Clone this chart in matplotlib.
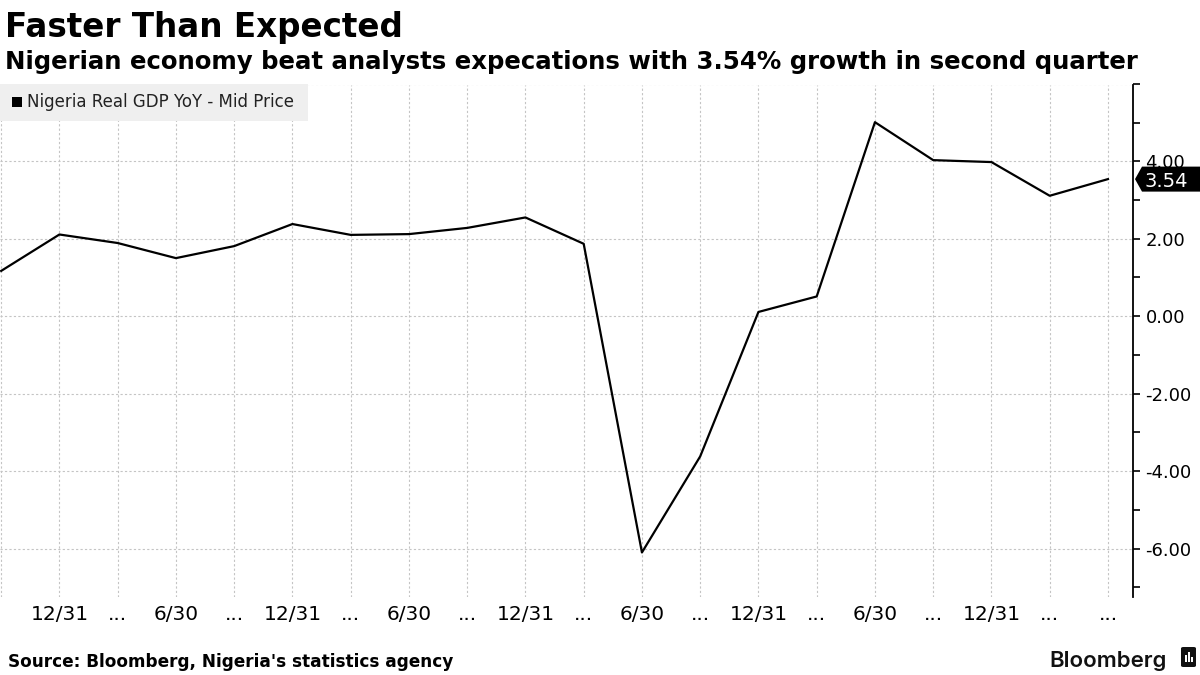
import matplotlib
matplotlib.use("Agg")
import matplotlib.pyplot as plt
from matplotlib.patches import Rectangle, FancyBboxPatch, Polygon
from matplotlib.ticker import FixedLocator, FuncFormatter

# Nigeria real GDP YoY, quarterly from Q3 2017 to Q2 2022
quarters = ["9/30/17", "12/31/17", "3/31/18", "6/30/18", "9/30/18", "12/31/18",
            "3/31/19", "6/30/19", "9/30/19", "12/31/19", "3/31/20", "6/30/20",
            "9/30/20", "12/31/20", "3/31/21", "6/30/21", "9/30/21", "12/31/21",
            "3/31/22", "6/30/22"]
gdp_yoy = [1.17, 2.11, 1.89, 1.50, 1.81, 2.38, 2.10, 2.12, 2.28, 2.55, 1.87,
           -6.10, -3.62, 0.11, 0.51, 5.01, 4.03, 3.98, 3.11, 3.54]
tick_labels = ["", "12/31", "...", "6/30", "...", "12/31", "...", "6/30", "...",
               "12/31", "...", "6/30", "...", "12/31", "...", "6/30", "...",
               "12/31", "...", "..."]
y_labelled = [-6, -4, -2, 0, 2, 4]
y_gridlines = [-6, -4, -2, 0, 2, 4, 6]
y_tickmarks = [-7, -6, -5, -4, -3, -2, -1, 0, 1, 2, 3, 4, 5, 6]
last_value = gdp_yoy[-1]

W, H = 1200, 675
fig = plt.figure(figsize=(12, 6.75), dpi=100)

# plot area in pixel terms: left 0, right 1133, top 85, bottom 597
ax = fig.add_axes([0, 1 - 597 / H, 1133 / W, (597 - 85) / H])
x = list(range(len(gdp_yoy)))
ax.plot(x, gdp_yoy, color="black", lw=1.6, zorder=3)

ax.set_xlim(-0.02, 19.43)
ax.set_ylim(-7.25, 5.97)

for s in ["left", "top", "bottom"]:
    ax.spines[s].set_visible(False)
ax.spines["right"].set_linewidth(1.3)

ax.xaxis.set_major_locator(FixedLocator(x))
ax.set_xticklabels(tick_labels)
ax.tick_params(axis="x", length=0, pad=6, labelsize=14.5)
ax.grid(True, axis="x", color="#c4c4c4", lw=0.8, linestyle=(0, (2, 2)))

# y labels on the right; tick marks drawn separately on the right spine only
ax.yaxis.set_major_locator(FixedLocator(y_labelled))
ax.yaxis.set_major_formatter(FuncFormatter(lambda v, p: "%.2f" % v))
ax.tick_params(axis="y", left=False, labelleft=False, right=True,
               labelright=True, length=0, pad=9, labelsize=13)
ax.plot([1] * len(y_tickmarks), y_tickmarks, linestyle="none", marker=1,
        markersize=5, markeredgewidth=1.2, color="black",
        transform=ax.get_yaxis_transform(), clip_on=False, zorder=4)
for gy in y_gridlines:
    ax.axhline(gy, color="#c4c4c4", lw=0.8, linestyle=(0, (2, 2)), zorder=1)

# legend box
fig.patches.append(Rectangle((0, 1 - 121 / H), 308 / W, 37 / H,
                             transform=fig.transFigure, fc="#efefef", ec="none",
                             zorder=5))
fig.patches.append(Rectangle((12 / W, 1 - 107 / H), 10 / W, 10 / H,
                             transform=fig.transFigure, fc="black", ec="none",
                             zorder=6))
fig.text(27 / W, 1 - 102 / H, "Nigeria Real GDP YoY - Mid Price", fontsize=12,
         va="center", ha="left", color="#222222", zorder=7)

# last value tag, placed at the data value through the axes transform
fig.canvas.draw()
_, ty = ax.transData.transform((0, last_value))
ty = H - ty  # pixel row from top
tag = [(1135, ty), (1142, ty - 12.5), (1200, ty - 12.5), (1200, ty + 12.5),
       (1142, ty + 12.5)]
fig.patches.append(Polygon([(px / W, 1 - py / H) for px, py in tag], closed=True,
                           transform=fig.transFigure, fc="black", ec="none",
                           zorder=9))
fig.text(1145 / W, 1 - ty / H, "%.2f" % last_value, color="white", fontsize=14,
         va="center_baseline", ha="left", zorder=10)

# titles
fig.text(5 / W, 1 - 37 / H, "Faster Than Expected", fontsize=23.5,
         fontweight="bold", va="baseline", ha="left")
fig.text(5 / W, 1 - 69 / H,
         "Nigerian economy beat analysts expecations with 3.54% growth in second quarter",
         fontsize=17.6, fontweight="bold", va="baseline", ha="left")
fig.text(8 / W, 1 - 667 / H, "Source: Bloomberg, Nigeria's statistics agency",
         fontsize=12.2, fontweight="bold", va="baseline", ha="left")
fig.text(1167 / W, 1 - 667 / H, "Bloomberg", fontsize=16,
         family=["Inter", "DejaVu Sans"], fontweight="semibold",
         va="baseline", ha="right", color="#111111")
fig.patches.append(FancyBboxPatch((1181 / W, 1 - 667 / H), 15 / W, 20 / H,
                                  boxstyle="round,pad=0,rounding_size=0.002",
                                  transform=fig.transFigure, fc="#111111",
                                  ec="none"))
for bx, bh in [(1185, 7), (1188, 10), (1191, 5)]:
    fig.patches.append(Rectangle((bx / W, 1 - 662 / H), 1.8 / W, bh / H,
                                 transform=fig.transFigure, fc="white",
                                 ec="none", zorder=3))

fig.savefig("out.png", dpi=100)
